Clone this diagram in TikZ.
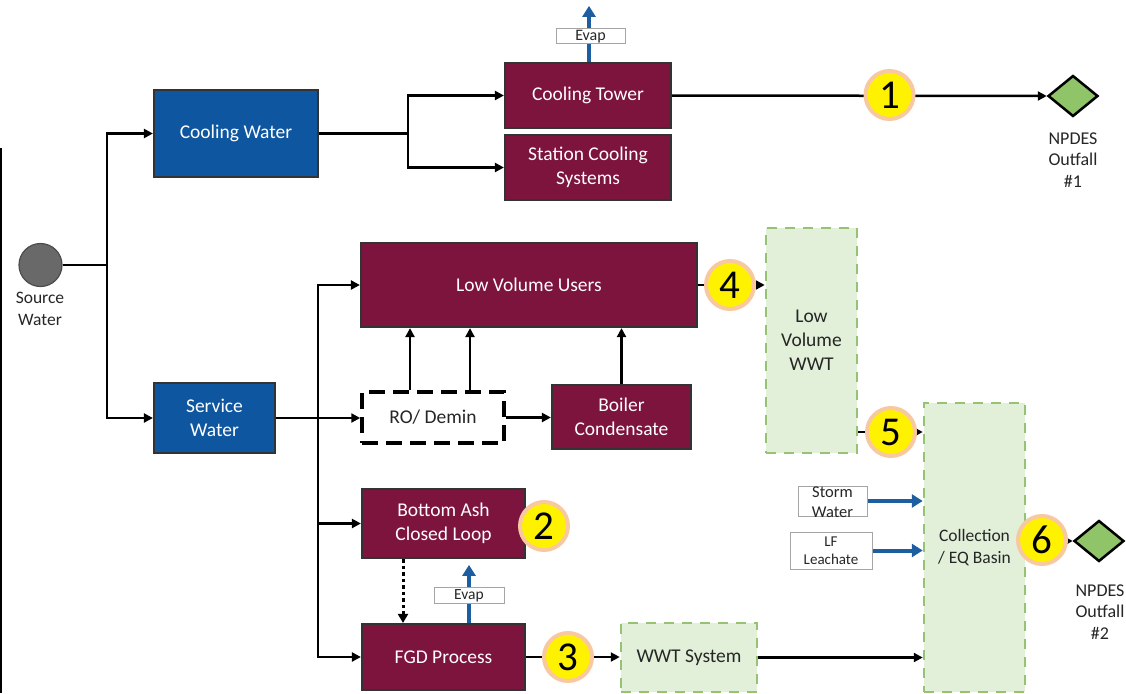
\documentclass[tikz,border=0pt]{standalone}
\usepackage{fontspec}
\setmainfont{Carlito}
\usetikzlibrary{arrows.meta,shapes.geometric,backgrounds}

\definecolor{plum}{RGB}{125,20,62}
\definecolor{deepblue}{RGB}{14,86,160}
\definecolor{ventblue}{RGB}{28,94,160}
\definecolor{palegreen}{RGB}{226,239,217}
\definecolor{dashgreen}{RGB}{150,194,116}
\definecolor{rimgreen}{RGB}{200,224,186}
\definecolor{outgreen}{RGB}{143,196,104}
\definecolor{peach}{RGB}{248,200,160}
\definecolor{srcgray}{RGB}{105,105,105}
\definecolor{tagedge}{RGB}{165,165,165}
\definecolor{inkgray}{RGB}{38,38,38}

\newcommand\fsz[2]{\fontsize{#1}{#2}\selectfont}

\tikzset{
  base/.style={rectangle, inner sep=0pt, align=center},
  plumbox/.style={base, draw=black!80, line width=2.2pt, fill=plum, text=white, font=\fsz{19.5}{24.5}},
  bluebox/.style={base, draw=black!80, line width=2.2pt, fill=deepblue, text=white, font=\fsz{19.5}{24.5}},
  wwtbox/.style={base, preaction={draw=rimgreen, line width=2.5pt}, draw=dashgreen, line width=2.5pt, dash pattern=on 10pt off 8pt, fill=palegreen, text=inkgray, font=\fsz{19.5}{24}},
  robox/.style={base, draw=black, line width=3.5pt, dash pattern=on 16pt off 8pt, fill=white, text=inkgray, font=\fsz{19.5}{24}},
  tagbox/.style={base, draw=tagedge, line width=1pt, fill=white, text=inkgray},
  tagtext/.style={base, text=inkgray},
  num/.style={circle, fill=yellow, draw=peach, line width=4pt, minimum size=48pt, inner sep=0pt, font=\fsz{41}{41}},
  outfall/.style={diamond, draw=black, line width=2.5pt, fill=outgreen, minimum width=50pt, minimum height=41pt, inner sep=0pt},
  lbl/.style={base, text=inkgray, font=\fsz{18}{21.5}},
  wire/.style={line width=2.5pt, black},
  flow/.style={wire, -{Triangle[length=9pt,width=9pt]}},
  dotflow/.style={line width=3pt, black, dash pattern=on 3.5pt off 3pt, -{Triangle[length=9pt,width=10pt]}},
  vent/.style={line width=4pt, ventblue, -{Triangle[length=11pt,width=13pt]}},
}

\begin{document}
\begin{tikzpicture}[x=1pt,y=-1pt]
\useasboundingbox (0,0) rectangle (1126,693);

% left margin rule
\draw[line width=2pt] (1,148) -- (1,693);

% source
\node[circle, fill=srcgray, draw=black!70, line width=1.2pt, minimum size=43pt, inner sep=0pt] (src) at (40.5,265) {};
\node[lbl, font=\fsz{17.5}{22}] (srclbl) at (40,309) {Source\\Water};

% supply boxes
\node[bluebox, minimum width=164pt, minimum height=87pt] (cw) at (236,133.5) {Cooling Water};
\node[bluebox, minimum width=121pt, minimum height=70pt] (sw) at (214.5,418) {Service\\Water};

% users
\node[plumbox, minimum width=166pt, minimum height=65pt] (ct) at (588,95.5) {Cooling Tower};
\node[plumbox, minimum width=166pt, minimum height=65pt] (scs) at (588,167.5) {Station Cooling\\Systems};
\node[plumbox, minimum width=336pt, minimum height=84pt] (lvu) at (529,285) {Low Volume Users};
\node[robox, minimum width=142pt, minimum height=51pt] (ro) at (433,417.5) {RO/ Demin};
\node[plumbox, minimum width=139pt, minimum height=64pt] (bc) at (621.5,417) {Boiler\\Condensate};
\node[plumbox, minimum width=163pt, minimum height=69pt] (ba) at (443.5,523.5) {Bottom Ash\\Closed Loop};
\node[plumbox, minimum width=163pt, minimum height=66pt] (fgd) at (443.5,657) {FGD Process};

% treatment
\node[wwtbox, minimum width=91pt, minimum height=225pt] (lvw) at (811.5,340.5) {Low\\Volume\\WWT};
\node[wwtbox, minimum width=101pt, minimum height=289pt, font=\fsz{17.5}{21.5}] (coll) at (974.5,547.5) {Collection\\/ EQ Basin};
\node[wwtbox, minimum width=136pt, minimum height=69pt] (wwt) at (689,657.5) {WWT System};

% small tags
\node[tagbox, minimum width=69pt, minimum height=15pt, text height=11pt, text depth=3pt, font=\fsz{16}{16}] (evap1) at (590.5,36.5) {Evap};
\node[tagbox, minimum width=70pt, minimum height=16pt, text height=11pt, text depth=3pt, font=\fsz{15.5}{15.5}] (evap2) at (469,595) {Evap};
\node[tagbox, minimum width=69pt, minimum height=30pt] (storm) at (832.5,501) {};
\node[tagtext, font=\fsz{16.5}{20}] (stormtxt) at (832.5,502) {Storm\\Water};
\node[tagbox, minimum width=82pt, minimum height=37pt, font=\fsz{15}{18}] (lf) at (831,550.5) {LF\\Leachate};

% sampling points
\node[num] (n1) at (889.5,95) {1};
\node[num] (n2) at (544,526) {2};
\node[num] (n3) at (568,657) {3};
\node[num] (n4) at (730,285) {4};
\node[num] (n5) at (891,432) {5};
\node[num] (n6) at (1042,540) {6};

% outfalls
\node[outfall] (out1) at (1073,96) {};
\node[lbl] (out1lbl) at (1073,160) {NPDES\\Outfall\\\#1};
\node[outfall] (out2) at (1099,541) {};
\node[lbl] (out2lbl) at (1100,612) {NPDES\\Outfall\\\#2};

% connectors
\begin{scope}[on background layer]
  \coordinate (j1) at (107,265);
  \draw[wire] (src.east) -- (j1);
  \draw[flow] (j1) |- (cw.west);
  \draw[flow] (j1) |- (sw.west);

  \coordinate (j2) at (408,133.5);
  \draw[wire] (cw.east) -- (j2);
  \draw[flow] (j2) |- (ct.west);
  \draw[flow] (j2) |- (scs.west);
  \draw[flow] (ct.east) -- (out1.west);

  \draw[flow] (sw.east) -- (sw.east -| ro.west);
  \coordinate (j3) at (318,418);
  \draw[flow] (j3) |- (lvu.west);
  \draw[flow] (j3) |- (ba.west);
  \draw[flow] (j3) |- (fgd.west);

  \draw[flow] ([xshift=-23pt]ro.north) -- ([xshift=-23pt]ro.north |- lvu.south);
  \draw[flow] ([xshift=37pt]ro.north) -- ([xshift=37pt]ro.north |- lvu.south);
  \draw[flow] (ro.east) -- (ro.east -| bc.west);
  \draw[flow] (bc.north) -- (bc.north |- lvu.south);

  \draw[flow] (lvu.east) -- (lvu.east -| lvw.west);
  \draw[flow] (lvw.east |- n5) -- (n5 -| coll.west);
  \draw[vent] (storm.east) -- (storm.east -| coll.west);
  \draw[vent] (lf.east) -- (lf.east -| coll.west);
  \draw[flow] (out2.west -| coll.east) -- (out2.west);

  \draw[dotflow] ([xshift=-40.5pt]ba.south) -- ([xshift=-40.5pt]ba.south |- fgd.north);
  \draw[vent] ([xshift=25.5pt]fgd.north) -- ++(0,-58);
  \draw[vent] ([xshift=1pt]ct.north) -- ++(0,-56);

  \draw[flow] (fgd.east) -- (fgd.east -| wwt.west);
  \draw[flow] (wwt.east) -- (wwt.east -| coll.west);
\end{scope}
\end{tikzpicture}
\end{document}
